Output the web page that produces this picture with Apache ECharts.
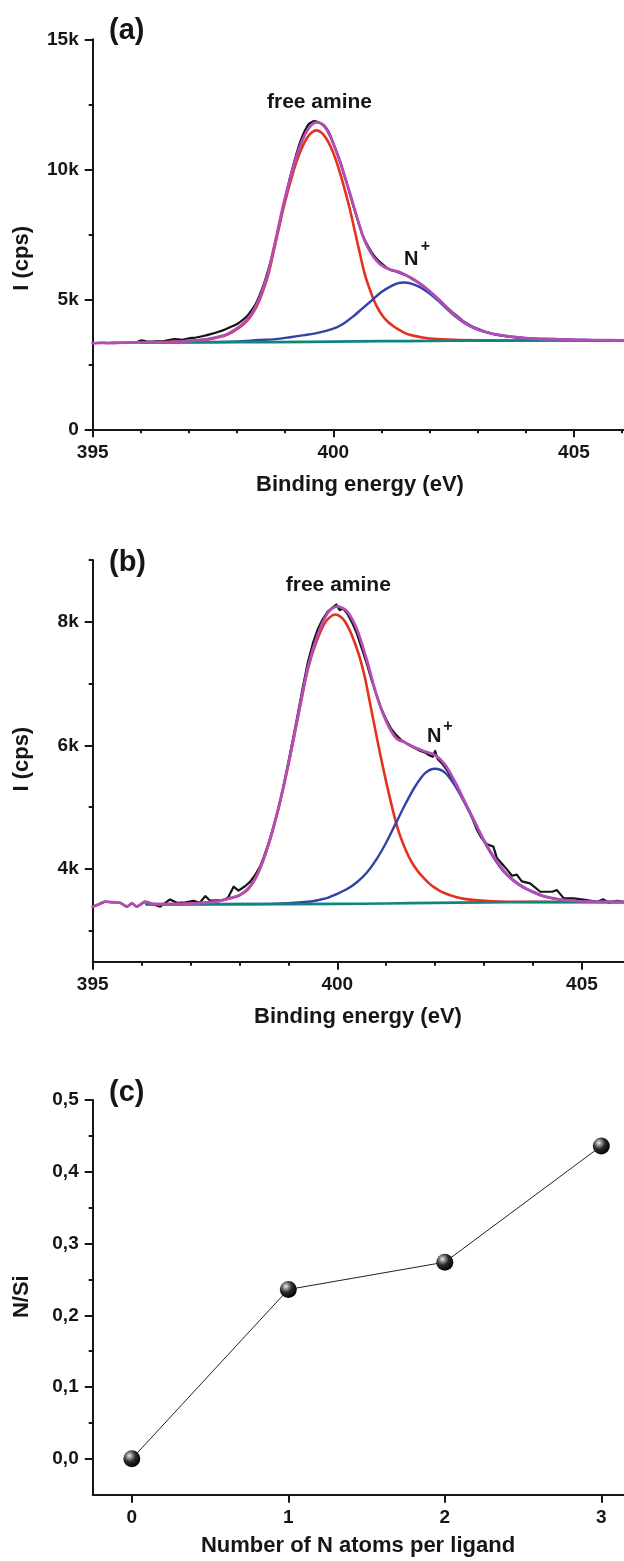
<!DOCTYPE html>
<html>
<head>
<meta charset="utf-8">
<script src="https://cdn.jsdelivr.net/npm/echarts@6/dist/echarts.min.js"></script>
<style>
  html, body { margin: 0; padding: 0; background: #fff; }
  #chart { width: 624px; height: 1561px; }
</style>
</head>
<body>
<div id="chart"></div>
<script>
// ---------- Panel (a): N 1s spectrum, sample 1 ----------
const aMeasured = [
  [395.0,3318],[395.15,3328],[395.3,3316],[395.45,3330],[395.6,3322],[395.75,3335],[395.9,3345],[396.02,3420],
  [396.15,3370],[396.3,3380],[396.45,3385],[396.6,3440],[396.7,3470],[396.85,3445],[397.0,3500],[397.15,3530],
  [397.3,3590],[397.45,3660],[397.6,3740],[397.75,3840],[397.9,3960],[398.0,4050],[398.1,4180],[398.2,4340],
  [398.3,4570],[398.4,4870],[398.5,5300],[398.6,5840],[398.7,6480],[398.8,7250],[398.9,8050],[399.0,8900],
  [399.1,9680],[399.2,10380],[399.3,10990],[399.4,11450],[399.5,11760],[399.6,11850],[399.7,11800],[399.8,11700],
  [399.9,11450],[400.0,11010],[400.1,10500],[400.2,9930],[400.3,9330],[400.4,8680],[400.5,8080],[400.6,7500],
  [400.7,7120],[400.8,6800],[400.9,6560],[401.0,6380],[401.1,6230],[401.2,6120],[401.3,6070],[401.4,6000],
  [401.5,5930],[401.6,5830],[401.7,5720],[401.8,5600],[401.9,5470],[402.0,5320],[402.1,5150],[402.2,4980],
  [402.3,4800],[402.4,4620],[402.5,4460],[402.6,4320],[402.7,4160],[402.8,4050],[402.9,3940],[403.0,3870],
  [403.1,3790],[403.2,3730],[403.35,3650],[403.5,3610],[403.65,3560],[403.8,3530],[404.0,3500],[404.2,3480],
  [404.4,3462],[404.6,3478],[404.75,3445],[404.9,3440],[405.05,3428],[405.2,3442],[405.4,3418],[405.6,3426],
  [405.8,3412],[406.04,3420]
];
const aFreeAmine = [
  [396.0,3342],[396.65,3368],[397.15,3411],[397.45,3477],[397.65,3559],[397.75,3609],[397.85,3690],[397.95,3797],
  [398.05,3920],[398.15,4066],[398.25,4263],[398.35,4532],[398.45,4899],[398.55,5388],[398.65,5958],[398.75,6755],
  [398.85,7577],[398.95,8400],[399.05,9116],[399.15,9784],[399.25,10370],[399.35,10843],[399.45,11193],
  [399.55,11414],[399.65,11496],[399.75,11416],[399.85,11197],[399.95,10850],[400.05,10379],[400.15,9795],
  [400.25,9130],[400.35,8417],[400.45,7597],[400.55,6779],[400.65,5985],[400.75,5418],[400.85,4932],[400.95,4568],
  [401.05,4302],[401.15,4108],[401.25,3963],[401.35,3842],[401.45,3737],[401.55,3657],[401.65,3609],[401.85,3530],
  [402.15,3467],[402.65,3430],[403.5,3411],[406.04,3420]
];
const aProtonated = [
  [396.0,3342],[397.0,3356],[397.5,3358],[398.0,3377],[398.45,3432],[398.8,3468],[399.1,3541],[399.4,3624],
  [399.6,3682],[399.8,3764],[400.0,3868],[400.2,4051],[400.4,4324],[400.6,4642],[400.8,4960],[401.0,5278],
  [401.2,5506],[401.35,5620],[401.47,5645],[401.6,5613],[401.8,5469],[402.0,5224],[402.2,4911],[402.4,4560],
  [402.6,4250],[402.8,4000],[403.0,3830],[403.2,3715],[403.4,3635],[403.7,3558],[404.0,3508],[404.4,3473],
  [405.0,3443],[406.04,3420]
];
const aBackground = [
  [396.0,3340],[398.0,3350],[399.5,3365],[400.5,3380],[401.5,3395],[402.5,3405],[404.0,3415],[406.04,3420]
];
const aEnvelope = [
  [395.0,3310],[395.2,3326],[395.4,3318],[395.6,3334],[395.8,3338],[396.0,3340],[396.5,3344],[397.15,3422],
  [397.45,3488],[397.65,3576],[397.75,3628],[397.85,3713],[397.95,3822],[398.05,3949],[398.15,4105],[398.25,4313],
  [398.35,4594],[398.45,4977],[398.55,5475],[398.65,6054],[398.75,6860],[398.85,7699],[398.95,8546],[399.05,9285],
  [399.15,9978],[399.25,10591],[399.35,11090],[399.45,11467],[399.55,11716],[399.65,11810],[399.75,11760],
  [399.85,11560],[399.95,11200],[400.05,10750],[400.15,10250],[400.25,9650],[400.35,9050],[400.45,8420],
  [400.55,7800],[400.65,7260],[400.75,6880],[400.85,6590],[400.95,6390],[401.05,6250],[401.15,6164],[401.25,6113],
  [401.35,6067],[401.45,5984],[401.55,5890],[401.65,5791],[401.85,5538],[402.05,5229],[402.25,4874],[402.45,4517],
  [402.65,4212],[402.85,3971],[403.05,3808],[403.3,3678],[403.6,3585],[404.0,3510],[404.4,3473],[405.0,3443],
  [405.8,3425],[406.04,3420]
];
const aYLabelValues = [0, 5000, 10000, 15000];
const aYMinorValues = [2500, 7500, 12500];
const aXLabelValues = [395, 400, 405];
const aXMinorValues = [396, 397, 398, 399, 401, 402, 403, 404, 406];

// ---------- Panel (b): N 1s spectrum, sample 2 ----------
const bMeasured = [
  [395.0,3390],[395.12,3427],[395.25,3471],[395.4,3462],[395.56,3454],[395.7,3390],[395.8,3444],[395.9,3390],
  [396.07,3471],[396.2,3440],[396.38,3390],[396.58,3508],[396.72,3454],[396.9,3460],[397.06,3487],[397.19,3454],
  [397.3,3562],[397.4,3487],[397.67,3498],[397.77,3541],[397.88,3714],[397.98,3649],[398.12,3725],[398.22,3795],
  [398.32,3903],[398.42,4038],[398.5,4200],[398.6,4430],[398.7,4700],[398.8,4990],[398.9,5340],[399.0,5730],
  [399.1,6130],[399.2,6540],[399.3,6960],[399.4,7350],[399.5,7650],[399.6,7880],[399.7,8040],[399.8,8160],
  [399.9,8230],[399.98,8280],[400.05,8190],[400.12,8210],[400.2,8140],[400.3,7990],[400.4,7810],[400.5,7570],
  [400.6,7330],[400.7,7060],[400.8,6820],[400.9,6590],[401.0,6420],[401.1,6270],[401.2,6170],[401.3,6090],
  [401.4,6040],[401.5,5990],[401.6,5950],[401.7,5910],[401.8,5880],[401.88,5840],[401.95,5815],[402.0,5910],
  [402.05,5780],[402.15,5700],[402.25,5590],[402.35,5450],[402.45,5320],[402.55,5170],[402.65,5010],[402.75,4840],
  [402.85,4640],[402.95,4500],[403.06,4400],[403.19,4362],[403.26,4180],[403.37,4080],[403.47,3990],[403.57,3890],
  [403.67,3910],[403.77,3800],[403.94,3767],[404.15,3632],[404.39,3632],[404.49,3659],[404.63,3524],[404.83,3524],
  [405.1,3497],[405.31,3470],[405.44,3508],[405.55,3454],[405.72,3486],[405.86,3465]
];
const bFreeAmine = [
  [396.1,3430],[397.0,3440],[397.5,3470],[397.76,3520],[397.96,3560],[398.06,3600],[398.16,3660],[398.26,3760],
  [398.36,3900],[398.46,4090],[398.56,4310],[398.66,4570],[398.76,4862],[398.86,5190],[398.96,5541],[399.06,5915],
  [399.16,6313],[399.26,6711],[399.36,7109],[399.46,7414],[399.56,7648],[399.66,7849],[399.76,7999],[399.86,8083],
  [399.96,8117],[400.06,8085],[400.16,8002],[400.26,7852],[400.36,7652],[400.46,7418],[400.56,7114],[400.66,6717],
  [400.76,6319],[400.86,5922],[400.96,5549],[401.06,5199],[401.16,4872],[401.26,4592],[401.36,4380],[401.46,4200],
  [401.56,4060],[401.66,3950],[401.76,3860],[401.86,3780],[401.96,3715],[402.16,3620],[402.46,3540],[402.76,3500],
  [403.16,3478],[404.0,3468],[405.86,3465]
];
const bProtonated = [
  [396.1,3430],[398.5,3433],[399.0,3447],[399.4,3471],[399.6,3495],[399.8,3532],[400.0,3598],[400.2,3675],
  [400.4,3785],[400.6,3938],[400.8,4156],[401.0,4429],[401.2,4746],[401.4,5063],[401.6,5347],[401.8,5555],
  [402.0,5622],[402.2,5559],[402.4,5355],[402.6,5075],[402.8,4762],[403.0,4447],[403.2,4177],[403.4,3960],
  [403.6,3809],[403.8,3701],[404.0,3626],[404.2,3561],[404.4,3524],[404.6,3501],[405.0,3477],[405.86,3465]
];
const bBackground = [
  [396.1,3430],[398.0,3432],[400.0,3435],[401.0,3442],[402.0,3452],[403.0,3460],[404.0,3463],[405.86,3465]
];
const bEnvelope = [
  [395.0,3390],[395.12,3427],[395.25,3471],[395.4,3462],[395.56,3454],[395.7,3390],[395.8,3444],[395.9,3390],
  [396.07,3471],[396.2,3440],[396.4,3433],[397.0,3440],[397.5,3470],[397.8,3525],[398.0,3576],[398.2,3701],
  [398.4,3972],[398.6,4414],[398.8,4996],[399.0,5703],[399.2,6492],[399.4,7267],[399.6,7791],[399.8,8138],
  [400.0,8250],[400.2,8170],[400.4,7880],[400.6,7390],[400.8,6820],[401.0,6390],[401.2,6120],[401.4,6040],
  [401.6,5960],[401.8,5900],[402.0,5840],[402.2,5690],[402.4,5420],[402.6,5100],[402.8,4780],[403.0,4460],
  [403.2,4196],[403.4,3974],[403.6,3819],[403.8,3709],[404.0,3631],[404.2,3565],[404.4,3527],[404.6,3502],
  [405.0,3477],[405.86,3465]
];
const bYLabelValues = [4000, 6000, 8000];
const bYMinorValues = [3000, 5000, 7000, 9000];
const bXLabelValues = [395, 400, 405];
const bXMinorValues = [396, 397, 398, 399, 401, 402, 403, 404];

// ---------- Panel (c): N/Si ratio ----------
const nAtomsPerLigand = [0, 1, 2, 3];
const nSiRatio = [0.000, 0.236, 0.274, 0.436];
const cYLabelValues = [0, 0.1, 0.2, 0.3, 0.4, 0.5];
const cYMinorValues = [0.05, 0.15, 0.25, 0.35, 0.45];
const cXLabelValues = [0, 1, 2, 3];

// ---------- styling ----------
const FONT = '"Liberation Sans", Arial, Helvetica, sans-serif';
const INK = '#161616';
const COLORS = {
  measured: '#141414',
  freeAmine: '#e5311e',
  protonated: '#3142a8',
  background: '#0f8580',
  envelope: '#b44cb7'
};
const GRIDS = [
  { left: 92.7, top: 39.3, width: 531.3, height: 390 },
  { left: 92.7, top: 560, width: 531.3, height: 401.7 },
  { left: 92.7, top: 1100, width: 531.3, height: 394.7 }
];

const tickText = { fontFamily: FONT, fontWeight: 'bold', fontSize: 19, color: INK, margin: 14 };
const axisLineStyle = { show: true, onZero: false, lineStyle: { color: INK, width: 2 } };

function mainAxis(gridIndex, position, min, max, interval, labelValues, formatter) {
  return {
    type: 'value', gridIndex, position, min, max, interval,
    axisLine: axisLineStyle,
    axisTick: { show: true, length: 8, lineStyle: { color: INK, width: 2 }, customValues: labelValues },
    axisLabel: Object.assign({ customValues: labelValues, formatter }, tickText),
    splitLine: { show: false },
    minorTick: { show: false }
  };
}
// Short ticks drawn by a second, label-less axis laid over the main one.
function minorAxis(gridIndex, position, offset, min, max, interval, values) {
  return {
    type: 'value', gridIndex, position, offset, min, max, interval,
    axisLine: { show: false, onZero: false },
    axisTick: { show: true, inside: true, length: 4, lineStyle: { color: INK, width: 2 }, customValues: values },
    axisLabel: { show: false },
    splitLine: { show: false }
  };
}

const kFormat = v => (v === 0 ? '0' : (v / 1000) + 'k');
const commaFormat = v => v.toFixed(1).replace('.', ',');
const plainFormat = v => String(v);

function curve(data, xi, yi, color, width, smooth, z) {
  return {
    type: 'line', data, xAxisIndex: xi, yAxisIndex: yi,
    symbol: 'none', showSymbol: false, silent: true,
    smooth: smooth,
    lineStyle: { color, width, cap: 'round', join: 'round' }, z
  };
}

function text(x, y, str, size, align, extra) {
  return Object.assign({
    type: 'text', x, y, silent: true,
    style: {
      text: str, fill: INK,
      font: 'bold ' + size + 'px ' + FONT,
      align: align, verticalAlign: 'middle',
      textAlign: align, textVerticalAlign: 'middle'
    }
  }, extra || {});
}

const option = {
  animation: false,
  backgroundColor: '#ffffff',
  grid: GRIDS.map(g => Object.assign({ containLabel: false, outerBoundsMode: 'none' }, g)),
  xAxis: [
    mainAxis(0, 'bottom', 395, 406.04, 1, aXLabelValues, plainFormat),
    minorAxis(0, 'top', -GRIDS[0].height, 395, 406.04, 1, aXMinorValues),
    mainAxis(1, 'bottom', 395, 405.86, 1, bXLabelValues, plainFormat),
    minorAxis(1, 'top', -GRIDS[1].height, 395, 405.86, 1, bXMinorValues),
    mainAxis(2, 'bottom', -0.25, 3.145, 0.25, cXLabelValues, plainFormat)
  ],
  yAxis: [
    mainAxis(0, 'left', 0, 15000, 2500, aYLabelValues, kFormat),
    minorAxis(0, 'right', -GRIDS[0].width, 0, 15000, 2500, aYMinorValues),
    mainAxis(1, 'left', 2500, 9000, 500, bYLabelValues, kFormat),
    minorAxis(1, 'right', -GRIDS[1].width, 2500, 9000, 500, bYMinorValues),
    mainAxis(2, 'left', -0.05, 0.5, 0.05, cYLabelValues, commaFormat),
    minorAxis(2, 'right', -GRIDS[2].width, -0.05, 0.5, 0.05, cYMinorValues)
  ],
  series: [
    curve(aMeasured, 0, 0, COLORS.measured, 2.2, 0.15, 2),
    curve(aFreeAmine, 0, 0, COLORS.freeAmine, 2.6, 0.3, 3),
    curve(aProtonated, 0, 0, COLORS.protonated, 2.4, 0.3, 3),
    curve(aBackground, 0, 0, COLORS.background, 2.7, 0.3, 4),
    curve(aEnvelope, 0, 0, COLORS.envelope, 2.8, 0.3, 5),

    curve(bMeasured, 2, 2, COLORS.measured, 2.2, false, 2),
    curve(bFreeAmine, 2, 2, COLORS.freeAmine, 2.6, 0.3, 3),
    curve(bProtonated, 2, 2, COLORS.protonated, 2.4, 0.3, 3),
    curve(bBackground, 2, 2, COLORS.background, 2.7, 0.3, 4),
    curve(bEnvelope, 2, 2, COLORS.envelope, 2.8, 0.3, 5),

    {
      type: 'line', xAxisIndex: 4, yAxisIndex: 4,
      data: nAtomsPerLigand.map((n, i) => [n, nSiRatio[i]]),
      symbol: 'circle', symbolSize: 17, showSymbol: true, silent: true,
      lineStyle: { color: '#222', width: 1 },
      itemStyle: {
        color: {
          type: 'radial', x: 0.36, y: 0.32, r: 0.72,
          colorStops: [
            { offset: 0, color: '#f2f2f2' },
            { offset: 0.18, color: '#a0a0a0' },
            { offset: 0.5, color: '#2a2a2a' },
            { offset: 1, color: '#000000' }
          ]
        },
        borderWidth: 0
      },
      z: 5
    }
  ],
  graphic: [
    text(109, 31, '(a)', 29, 'left'),
    text(109, 563, '(b)', 29, 'left'),
    text(109, 1093, '(c)', 29, 'left'),

    text(319.5, 102.7, 'free amine', 21, 'center'),
    text(404, 259, 'N', 20, 'left'),
    text(425.5, 246.7, '+', 16, 'center'),
    text(338.3, 585.7, 'free amine', 21, 'center'),
    text(427, 736.4, 'N', 20, 'left'),
    text(447.8, 726.7, '+', 16, 'center'),

    text(360, 485, 'Binding energy (eV)', 22, 'center'),
    text(358, 1017.3, 'Binding energy (eV)', 22, 'center'),
    text(358, 1546, 'Number of N atoms per ligand', 22, 'center'),

    text(21.5, 258.3, 'I (cps)', 22, 'center', { rotation: Math.PI / 2 }),
    text(21.5, 759.2, 'I (cps)', 22, 'center', { rotation: Math.PI / 2 }),
    text(21.5, 1296.7, 'N/Si', 22, 'center', { rotation: Math.PI / 2 })
  ]
};

const chart = echarts.init(document.getElementById('chart'), null, { renderer: 'canvas' });
chart.setOption(option);
</script>
</body>
</html>
